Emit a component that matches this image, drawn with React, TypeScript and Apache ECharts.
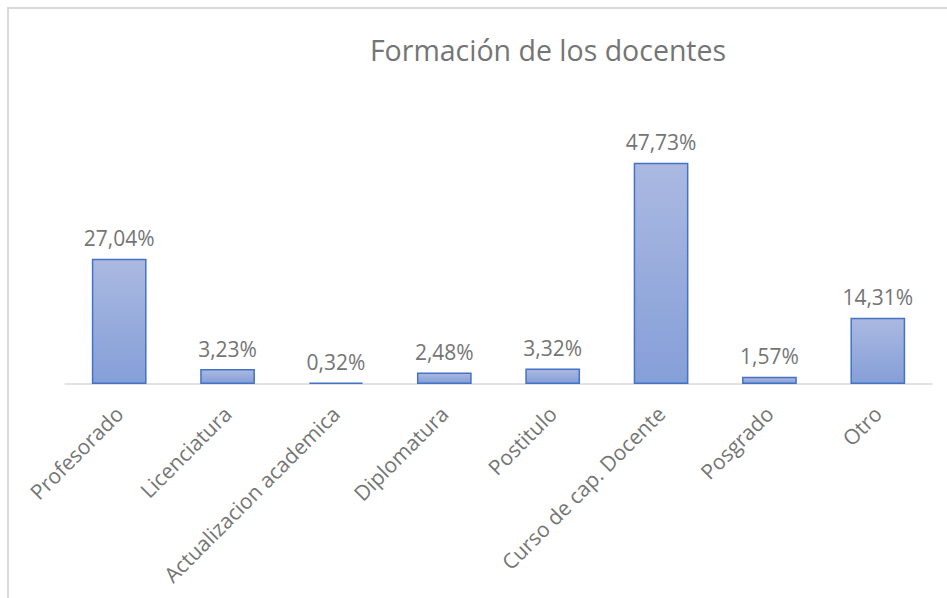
import React, { useEffect, useRef } from "react";
import * as echarts from "echarts";

const categories = [
  "Profesorado",
  "Licenciatura",
  "Actualizacion academica",
  "Diplomatura",
  "Postitulo",
  "Curso de cap. Docente",
  "Posgrado",
  "Otro",
];
const values = [27.04, 3.23, 0.32, 2.48, 3.32, 47.73, 1.57, 14.31];
const titleText = "Formación de los docentes";

const FONT = "'Open Sans', 'Noto Sans', sans-serif";

export default function App() {
  const ref = useRef<HTMLDivElement>(null);
  useEffect(() => {
    if (!ref.current) return;
    const chart = echarts.init(ref.current, undefined, { renderer: "svg" });
    chart.setOption({
      animation: false,
      backgroundColor: "#ffffff",
      title: {
        text: titleText,
        left: 543,
        top: 30,
        textAlign: "center",
        textStyle: {
          fontFamily: FONT,
          fontSize: 28.5,
          fontWeight: "normal",
          color: "#757575",
        },
      },
      graphic: [
        {
          type: "rect",
          shape: { x: 8, y: 8, width: 960, height: 620 },
          style: { fill: "none", stroke: "#d9d9d9", lineWidth: 2 },
          silent: true,
        },
      ],
      grid: { left: 65, right: 15, top: 106, bottom: 214 },
      xAxis: {
        type: "category",
        data: categories,
        axisLine: { lineStyle: { color: "#d9d9d9", width: 1.5 } },
        axisTick: { show: false },
        axisLabel: {
          rotate: 45,
          interval: 0,
          margin: 26,
          fontFamily: FONT,
          fontSize: 21,
          color: "#757575",
        },
      },
      yAxis: {
        type: "value",
        min: 0,
        max: 60,
        show: false,
        splitLine: { show: false },
      },
      series: [
        {
          type: "bar",
          data: values,
          barWidth: "50.5%",
          itemStyle: {
            color: new echarts.graphic.LinearGradient(0, 0, 0, 1, [
              { offset: 0, color: "#aab9e1" },
              { offset: 1, color: "#859fd8" },
            ]),
            borderColor: "#4472c4",
            borderWidth: 1.5,
          },
          label: {
            show: true,
            position: "top",
            distance: 10,
            fontFamily: FONT,
            fontSize: 21,
            color: "#757575",
            formatter: (p: any) => p.value.toFixed(2).replace(".", ",") + "%",
          },
        },
      ],
    });
    return () => chart.dispose();
  }, []);
  return (
    <div
      ref={ref}
      style={{ position: "fixed", left: 0, top: 0, width: 947, height: 598 }}
    />
  );
}
